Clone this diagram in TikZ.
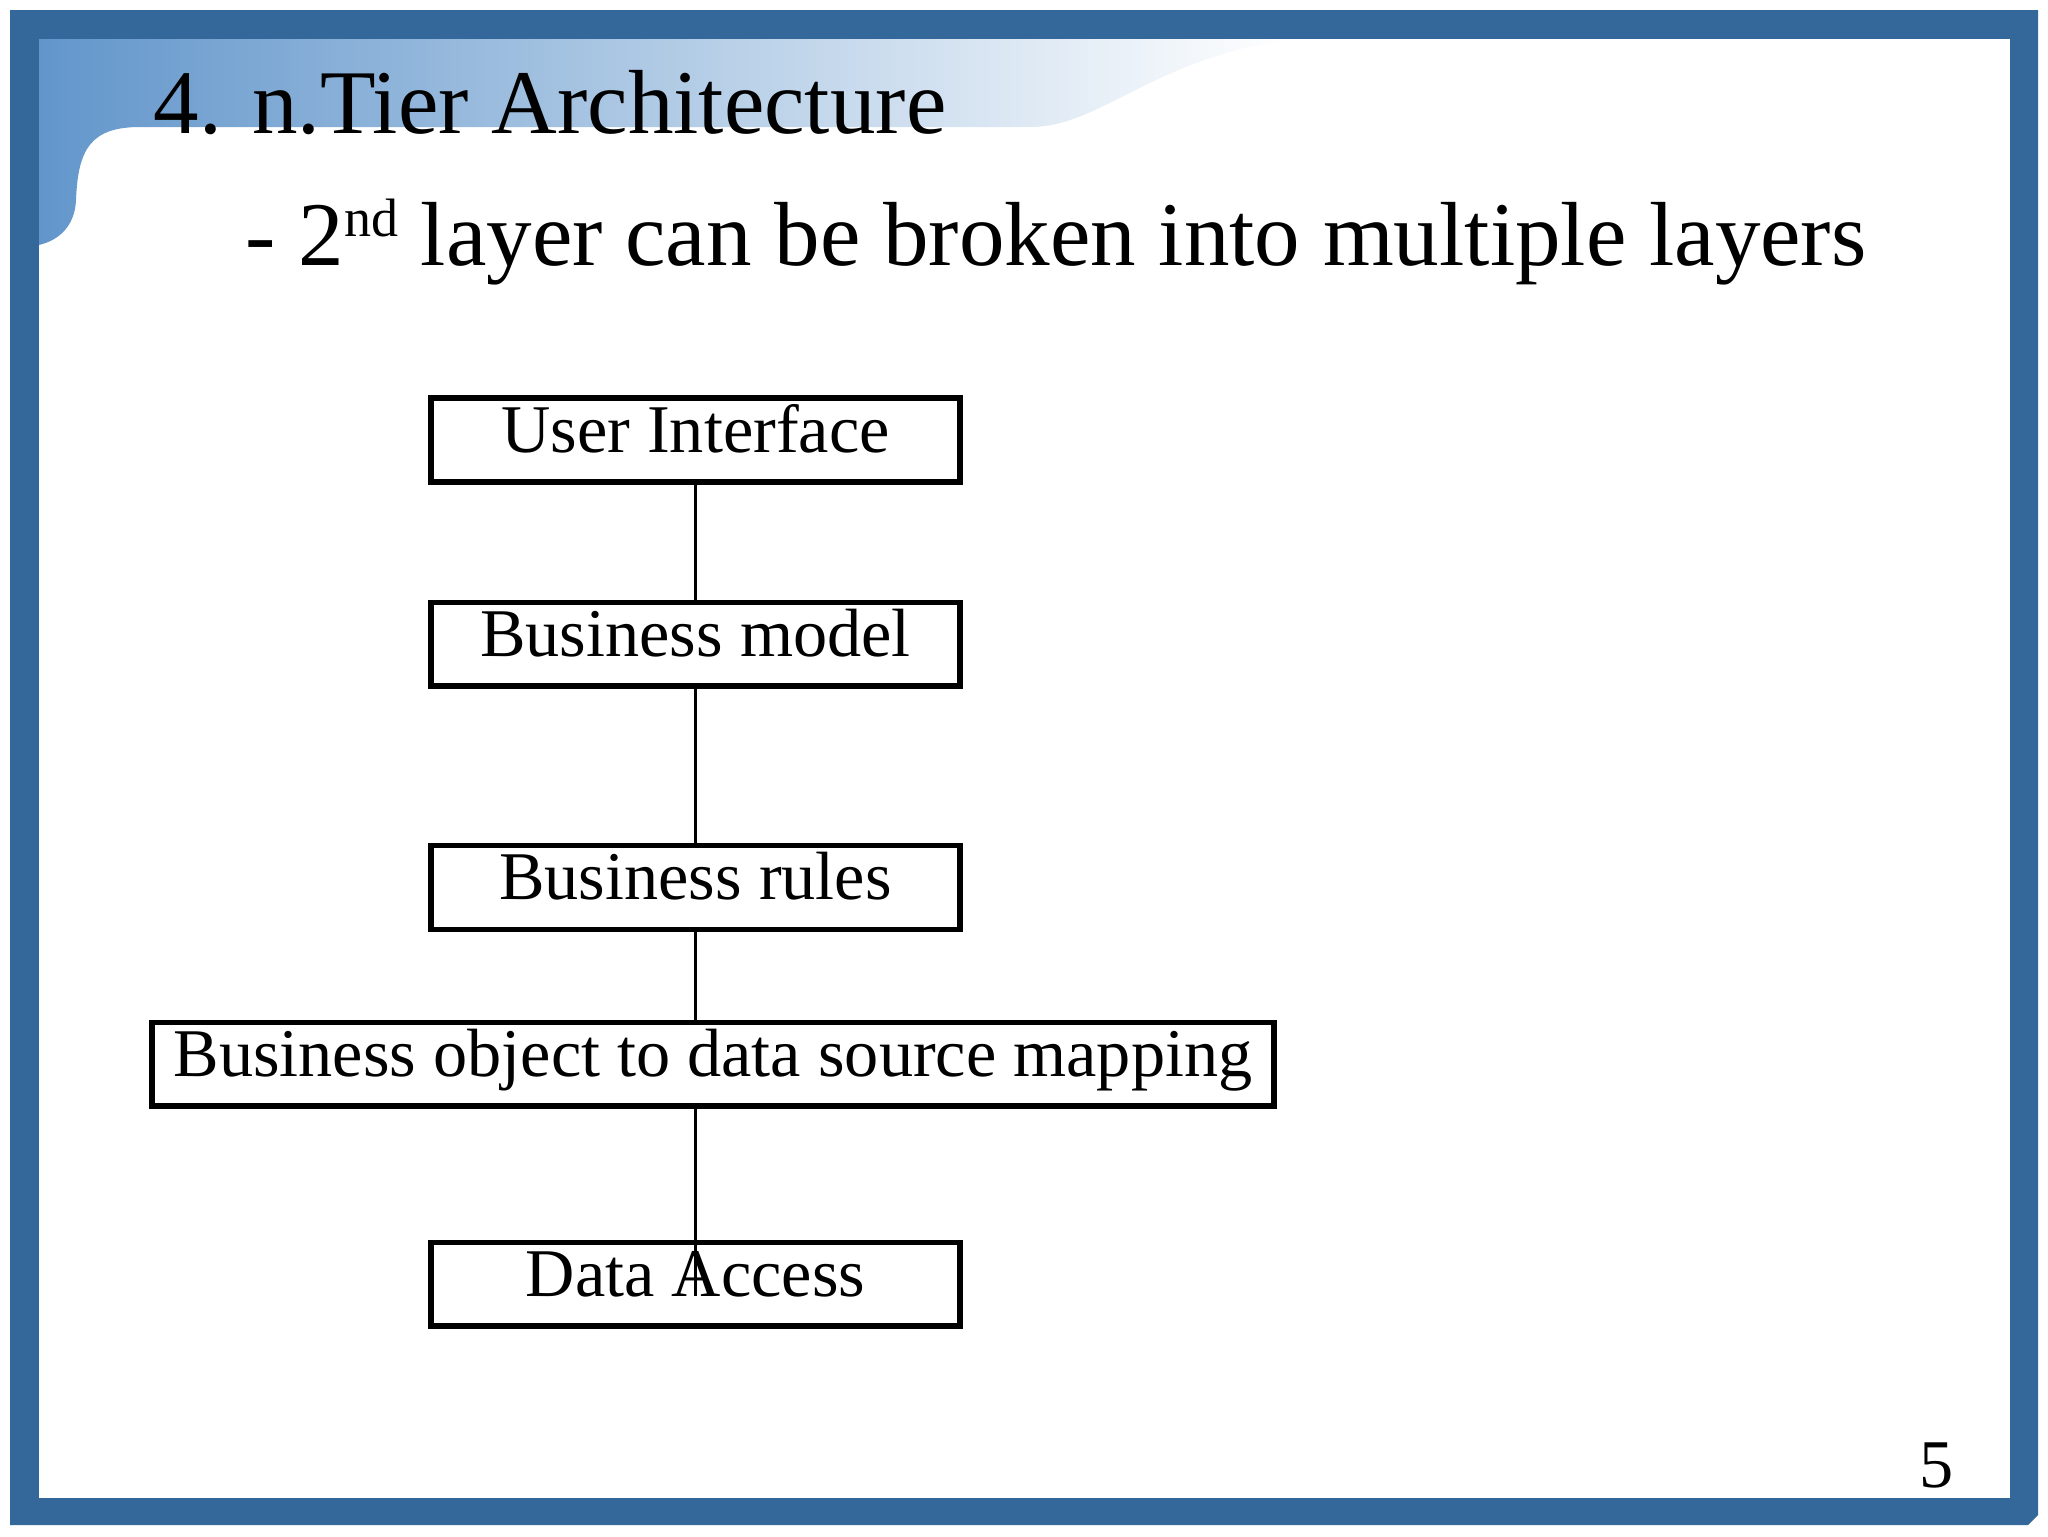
\documentclass[tikz,border=0pt]{standalone}
\usepackage{fontspec}
\setmainfont{Liberation Serif}
\definecolor{frameblue}{RGB}{52,103,154}
\definecolor{headblue}{RGB}{98,150,203}
\newcommand{\slidefont}[1]{\fontsize{#1}{1.2\dimexpr#1pt\relax}\selectfont}
\newcommand{\supnd}{\raisebox{10pt}{\slidefont{19}nd}}
\begin{document}
\begin{tikzpicture}[x=0.3516pt,y=-0.3516pt,
 layer/.style={draw,line width=1.8pt,inner xsep=0pt,inner ysep=0pt,
  text height=19pt,text depth=10.5pt,minimum width=186pt,font=\slidefont{24}},
 link/.style={line width=0.75pt}]
 \useasboundingbox[fill=white] (0,0) rectangle (2048,1536);
 % slide frame and header
 \fill[frameblue] (10,10) -- (2038,10) -- (2038,1515) -- (2028,1525) -- (10,1525) -- cycle;
 \fill[white] (39,39) rectangle (2010,1498);
 \shade[left color=headblue,right color=white] (39,39) -- (1290,39)
 .. controls (1150,60) and (1100,127) .. (1030,127) -- (140,127)
 .. controls (90,127) and (78,150) .. (76,200)
 .. controls (75,225) and (60,240) .. (39,245) -- cycle;
 \node[anchor=base west,inner sep=0pt,font=\slidefont{32}] (title) at (153,133)
 {4. n.Tier Architecture};
 \node[anchor=base west,inner sep=0pt,font=\slidefont{32}] (subtitle) at (245,265)
 {- 2\supnd{} layer can be broken into multiple layers};
 % layers
 \node[layer] (ui) at (695.5,440) {User Interface};
 \node[layer] (bm) at (695.5,644) {Business model};
 \node[layer] (br) at (695.5,887.5) {Business rules};
 \node[layer,minimum width=394.5pt] (bo) at (713,1064) {Business object to data source mapping};
 \node[layer] (da) at (695.5,1284) {Data Access};
 \draw[link] (ui) -- (bm); \draw[link] (bm) -- (br);
 \draw[link] (br.south) -- (br.south |- bo.north);
 \draw[link] (da.base |- bo.south) -- (da.base);
 \node[anchor=base,inner sep=0pt,font=\slidefont{24}] (page) at (1937,1487) {5};
\end{tikzpicture}
\end{document}
